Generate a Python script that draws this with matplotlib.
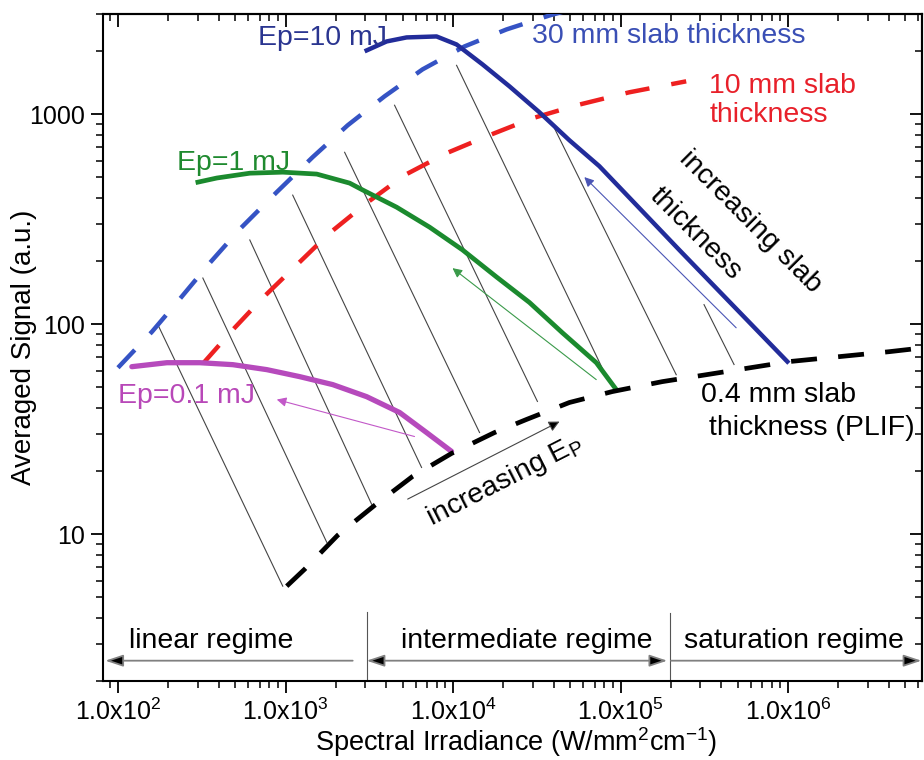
import math
import matplotlib.pyplot as plt
from matplotlib.ticker import LogLocator, FuncFormatter, NullFormatter

plt.rcParams['font.family'] = ['Liberation Sans', 'DejaVu Sans']
plt.rcParams['mathtext.fontset'] = 'custom'
plt.rcParams['mathtext.rm'] = 'Liberation Sans'
plt.rcParams['mathtext.it'] = 'Liberation Sans:italic'
plt.rcParams['mathtext.default'] = 'regular'

# slab thickness curves (dashed)
slab30_x = [100, 159.5, 234, 353.5, 534, 887, 1453, 2350, 3906, 6580, 11710, 20840, 37610, 53000]
slab30_y = [62.1, 92.1, 132, 196, 284, 426, 625, 886, 1218, 1636, 2104, 2534, 2953, 3188]
slab10_x = [321, 485, 731.8, 1167, 1836, 3051, 5140, 9150, 16500, 29780, 54480, 112700, 246600]
slab10_y = [64.9, 94.2, 133.6, 191.7, 272, 377.8, 513, 652.8, 794.8, 957, 1103, 1272, 1435]
plif_x = [1017, 1302, 2049, 3404, 5735, 9797, 17680, 27430, 49500, 89300, 177400, 324500,
          1.014e6, 4.0e6, 6.47e6]
plif_y = [5.66, 6.82, 9.89, 13.73, 18.86, 24.26, 30.5, 35.2, 42.4, 47.8, 53.3, 57.5,
          66.4, 74.0, 77.3]

# pulse energy curves (solid)
ep01_x = [121, 196, 308, 485, 773, 1216, 1913, 3051, 4799, 6950, 9797]
ep01_y = [62.8, 65.6, 65.6, 64.2, 60.8, 56.3, 51.6, 45.2, 38.0, 30.5, 24.8]
ep1_x = [300, 389, 612, 963, 1536, 2415, 2887, 4605, 7243, 11390, 18170, 28580, 44950,
         71700, 94400]
ep1_y = [475, 497, 524, 530, 519, 470, 436, 361, 290, 226, 168, 127, 91.1, 65.6, 48.8]
ep10_x = [3051, 4015, 5283, 7973, 10490, 14990, 21720, 32790, 49500, 74700, 224000, 990000]
ep10_y = [2014, 2222, 2322, 2347, 2150, 1728, 1358, 1022, 752, 566, 226, 66.4]

# thin guide lines, top -> bottom
guide_x0 = [173, 321, 612, 1104, 2254, 4477, 10500, 40300, 315000]
guide_y0 = [99.5, 166, 252, 412, 659, 1104, 1710, 858, 124]
guide_x1 = [963, 1762, 3266, 6490, 14400, 31900, 82200, 215000, 476000]
guide_y1 = [5.66, 9.16, 13.9, 20.8, 30.5, 42.9, 56.4, 57.5, 64.3]

# regime boundaries
lin_edge = 3050
sat_edge = 198000

fig = plt.figure(figsize=(9.24, 7.6), dpi=100)
ax = fig.add_axes([0.1111, 0.1039, 0.8867, 0.8776])
ax.set_xscale('log')
ax.set_yscale('log')
ax.set_xlim(81, 6.3e6)
ax.set_ylim(2.0, 3000)

for x0, y0, x1, y1 in zip(guide_x0, guide_y0, guide_x1, guide_y1):
    ax.plot([x0, x1], [y0, y1], color='#444444', lw=0.8, zorder=1)

ax.plot(slab30_x, slab30_y, color='#3553c4', lw=3.2, dashes=(5.5, 5), zorder=3)
ax.plot(slab10_x, slab10_y, color='#ee2020', lw=3.2, dashes=(5.5, 5), zorder=3)
ax.plot(ep01_x, ep01_y, color='#b64abc', lw=3.8, zorder=3, solid_capstyle='round')
ax.plot(ep1_x, ep1_y, color='#1b8a2e', lw=3.4, zorder=3)
ax.plot(ep10_x, ep10_y, color='#222c9a', lw=3.2, zorder=3)
ax.plot(plif_x, plif_y, color='black', lw=3.4, dashes=(5.5, 4.5), zorder=4)


def arrow(tail, head, color, lw=0.8, ms=14):
    ax.annotate('', xy=head, xytext=tail,
                arrowprops=dict(arrowstyle='-|>', color=color, lw=lw,
                                mutation_scale=ms, shrinkA=0, shrinkB=0))


arrow((5890, 29.2), (887, 43.8), '#c258c8')
arrow((71600, 54.5), (9930, 185), '#3a9a4a')
arrow((490000, 96.2), (60800, 502), '#4a55b5')
ax.annotate('', xy=(43200, 34.4), xytext=(5360, 14.7),
            arrowprops=dict(arrowstyle='-|>', ec='#444444', fc='black', lw=0.8,
                            mutation_scale=16, shrinkA=0, shrinkB=0))

# regime markers along the bottom
ax.plot([lin_edge, lin_edge], [2.0, 4.26], color='#555555', lw=0.8)
ax.plot([sat_edge, sat_edge], [2.0, 4.2], color='#555555', lw=0.8)
reg_y = 2.5
arr_kw = dict(ec='#808080', fc='black', lw=1.3, mutation_scale=18, shrinkA=0, shrinkB=0)
ax.annotate('', xy=(84, reg_y), xytext=(2518, reg_y),
            arrowprops=dict(arrowstyle='-|>,head_length=0.6,head_width=0.2', **arr_kw))
ax.annotate('', xy=(3050, reg_y), xytext=(190000, reg_y),
            arrowprops=dict(arrowstyle='<|-|>,head_length=0.6,head_width=0.2', **arr_kw))
ax.annotate('', xy=(6.25e6, reg_y), xytext=(200000, reg_y),
            arrowprops=dict(arrowstyle='-|>,head_length=0.6,head_width=0.2', **arr_kw))
ax.text(358, 2.87, 'linear regime', fontsize=20.5, ha='center', va='baseline')
ax.text(27400, 2.87, 'intermediate regime', fontsize=20.5, ha='center', va='baseline')
ax.text(1.09e6, 2.87, 'saturation regime', fontsize=20.5, ha='center', va='baseline')

# curve labels
fs = 20.5
ax.text(684, 2297, 'Ep=10 mJ', color='#2a3590', fontsize=fs, va='center')
ax.text(29800, 2350, '30 mm slab thickness', color='#3a4fb5', fontsize=fs, va='center')
ax.text(338000, 1166, '10 mm slab\nthickness', color='#e8202a', fontsize=fs,
        va='center', linespacing=1.15)
ax.text(225, 585, 'Ep=1 mJ', color='#1f8a2f', fontsize=fs, va='center')
ax.text(100, 45.3, 'Ep=0.1 mJ', color='#b848b8', fontsize=fs, va='center')
ax.text(303000, 46.2, '0.4 mm slab', fontsize=fs, va='center')
ax.text(338000, 32.2, 'thickness (PLIF)', fontsize=fs, va='center')
ax.text(20300, 17.9, 'increasing E$_P$', fontsize=fs, rotation=27,
        rotation_mode='anchor', ha='center', va='center')
ax.text(593000, 307, 'increasing slab', fontsize=fs, rotation=-45,
        rotation_mode='anchor', ha='center', va='center')
ax.text(279000, 269, 'thickness', fontsize=fs, rotation=-45,
        rotation_mode='anchor', ha='center', va='center')

# axes, ticks and labels
ax.xaxis.set_major_locator(LogLocator(base=10, numticks=12))
ax.xaxis.set_major_formatter(FuncFormatter(
    lambda v, p: '1.0x10$^{%d}$' % round(math.log10(v))))
ax.xaxis.set_minor_formatter(NullFormatter())
ax.yaxis.set_major_formatter(FuncFormatter(lambda v, p: '%d' % v))
ax.yaxis.set_minor_formatter(NullFormatter())
ax.tick_params(which='major', direction='out', length=8.5, width=1.3, labelsize=18, pad=4)
ax.tick_params(which='minor', direction='out', length=5, width=1.1)
for s in ax.spines.values():
    s.set_linewidth(1.5)

top = ax.secondary_xaxis('top')
top.tick_params(which='major', direction='in', length=9, width=1.3, labeltop=False)
top.tick_params(which='minor', direction='in', length=5, width=1.1)
top.xaxis.set_major_formatter(NullFormatter())
top.xaxis.set_minor_formatter(NullFormatter())
top.spines['top'].set_linewidth(1.5)
right = ax.secondary_yaxis('right')
right.tick_params(which='major', direction='in', length=9, width=1.3, labelright=False)
right.tick_params(which='minor', direction='in', length=5, width=1.1)
right.yaxis.set_major_formatter(NullFormatter())
right.yaxis.set_minor_formatter(NullFormatter())
right.spines['right'].set_linewidth(1.5)

ax.set_xlabel('Spectral Irradiance (W/mm$^2$cm$^{-1}$)', fontsize=19.5)
ax.set_ylabel('Averaged Signal (a.u.)', fontsize=20)
ax.xaxis.set_label_coords(0.505, -0.066)
ax.yaxis.set_label_coords(-0.080, 0.5)

fig.savefig('out.png', dpi=100)
